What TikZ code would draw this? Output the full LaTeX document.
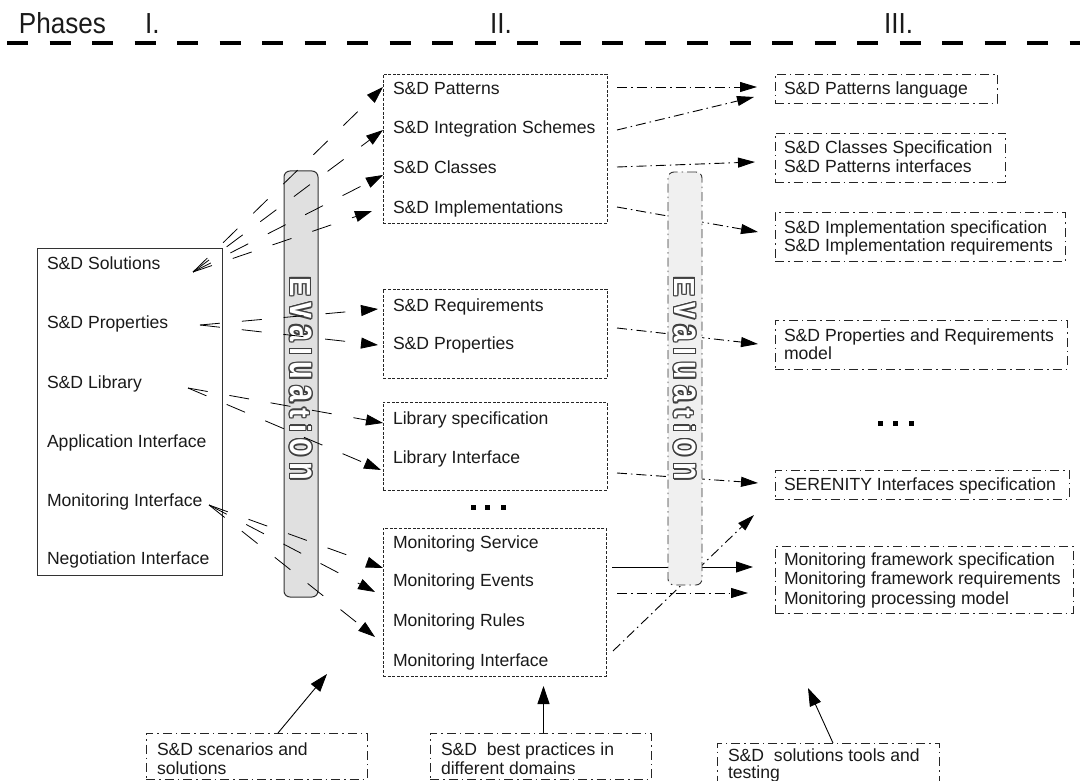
\documentclass[tikz,border=0pt]{standalone}
\usepackage{fontspec}
\setmainfont{Liberation Sans}
\usepackage{graphicx}
\usetikzlibrary{arrows.meta,calc}
\definecolor{txt}{HTML}{1A1A1A}
\newlength{\evk}\setlength{\evk}{6.3pt}
\newcommand{\lcx}[1]{\scalebox{1}[1.38]{#1}}
\newcommand{\evword}{E\kern\evk\lcx{v}\kern\evk\lcx{a}\kern\evk l\kern\evk\lcx{u}\kern\evk\lcx{a}\kern\evk t\kern\evk i\kern\evk\lcx{o}\kern\evk\lcx{n}}
\begin{document}
\begin{tikzpicture}[x=1pt,y=-1pt,
 every node/.style={inner sep=0pt, outer sep=0pt},
 lbl/.style={anchor=west, text height=12.6pt, text depth=0pt, font=\fontsize{17.6}{19.5}\selectfont, text=txt},
 hdr/.style={anchor=base west, font=\fontsize{29}{32}\selectfont, text=txt},
 solidbox/.style={draw=black!80, line width=1pt, anchor=north west},
 midbox/.style={draw=black!85, line width=0.8pt, dash pattern=on 3pt off 1.6pt, anchor=north west},
 ddbox/.style={draw=black!85, line width=0.9pt, dash pattern=on 9pt off 4pt on 1.5pt off 4pt, anchor=north west},
 ldash/.style={draw=black, line width=0.8pt, dash pattern=on 20pt off 22pt, -{Triangle[length=17pt,width=11pt]}},
 ddarrow/.style={draw=black, line width=0.9pt, dash pattern=on 10pt off 4pt on 1.5pt off 4pt, -{Triangle[length=17pt,width=10pt]}},
 sarrow/.style={draw=black, line width=0.9pt, -{Triangle[length=17pt,width=11pt]}},
 uparrow/.style={draw=black, line width=0.9pt, -{Triangle[length=18pt,width=12pt]}},
 bar1/.style={draw=black!80, line width=1pt, fill=black!12, rounded corners=6pt, anchor=north west},
 bar2/.style={draw=black!80, line width=0.9pt, fill=black!6, rounded corners=6pt, dash pattern=on 9pt off 4pt on 1.5pt off 4pt, anchor=north west},
 evo/.style={rotate=-90, anchor=west, font=\fontsize{29}{30}\selectfont\bfseries, text=black!75},
 evi/.style={rotate=-90, anchor=west, font=\fontsize{29}{30}\selectfont\bfseries, text=white},
]
\useasboundingbox (0,0) rectangle (1080,781);

% header
\node[hdr] (phases) at (19,34) {\scalebox{0.9}[1]{Phases}};
\node[hdr] (ph1) at (145,34) {\scalebox{0.9}[1]{I.}};
\node[hdr] (ph2) at (490,34) {\scalebox{0.9}[1]{II.}};
\node[hdr] (ph3) at (884,34) {\scalebox{0.9}[1]{III.}};
\coordinate (hdL) at (7,43.5);
\coordinate (hdR) at (1090,43.5);
\draw[line width=4pt, dash pattern=on 21pt off 21.5pt] (hdL) -- (hdR);

% left box
\node[solidbox, minimum width=185pt, minimum height=327pt] (boxL) at (37,248) {};
\node[lbl] (lSol) at (47,263) {S\&D Solutions};
\node[lbl] (lProp) at (47,322) {S\&D Properties};
\node[lbl] (lLib) at (47,382) {S\&D Library};
\node[lbl] (lApp) at (47,441) {Application Interface};
\node[lbl] (lMon) at (47,500) {Monitoring Interface};
\node[lbl] (lNeg) at (47,558) {Negotiation Interface};

% middle boxes
\node[midbox, minimum width=224pt, minimum height=149pt] (boxA) at (383,74) {};
\node[lbl] (aPat) at (393,88) {S\&D Patterns};
\node[lbl] (aInt) at (393,127) {S\&D Integration Schemes};
\node[lbl] (aCls) at (393,167) {S\&D Classes};
\node[lbl] (aImp) at (393,207) {S\&D Implementations};

\node[midbox, minimum width=224pt, minimum height=89pt] (boxB) at (383,289) {};
\node[lbl] (bReq) at (393,305) {S\&D Requirements};
\node[lbl] (bProp) at (393,343) {S\&D Properties};

\node[midbox, minimum width=224pt, minimum height=88pt] (boxC) at (383,402) {};
\node[lbl] (cSpec) at (393,418) {Library specification};
\node[lbl] (cInt) at (393,457) {Library Interface};

\node[midbox, minimum width=223pt, minimum height=148pt] (boxD) at (383,528) {};
\node[lbl] (dSrv) at (393,542) {Monitoring Service};
\node[lbl] (dEvt) at (393,580) {Monitoring Events};
\node[lbl] (dRul) at (393,620) {Monitoring Rules};
\node[lbl] (dInt) at (393,660) {Monitoring Interface};

\fill (470.5,504.5) rectangle +(5,5);
\fill (485,504.5) rectangle +(5,5);
\fill (501,504.5) rectangle +(5,5);

% right boxes
\node[ddbox, minimum width=222pt, minimum height=29pt] (r1) at (775,74) {};
\node[lbl] (r1a) at (784,88) {S\&D Patterns language};
\node[ddbox, minimum width=230pt, minimum height=49pt] (r2) at (775,133) {};
\node[lbl] (r2a) at (784,147) {S\&D Classes Specification};
\node[lbl] (r2b) at (784,166) {S\&D Patterns interfaces};
\node[ddbox, minimum width=290pt, minimum height=49pt] (r3) at (775,212) {};
\node[lbl] (r3a) at (784,227) {S\&D Implementation specification};
\node[lbl] (r3b) at (784,245) {S\&D Implementation requirements};
\node[ddbox, minimum width=292pt, minimum height=49pt] (r4) at (775,320) {};
\node[lbl] (r4a) at (784,335) {S\&D Properties and Requirements};
\node[lbl] (r4b) at (784,353) {model};
\node[ddbox, minimum width=294pt, minimum height=29pt] (r5) at (775,470) {};
\node[lbl] (r5a) at (784,484) {SERENITY Interfaces specification};
\node[ddbox, minimum width=298pt, minimum height=67pt] (r6) at (775,546) {};
\node[lbl] (r6a) at (784,559) {Monitoring framework specification};
\node[lbl] (r6b) at (784,578) {Monitoring framework requirements};
\node[lbl] (r6c) at (784,598) {Monitoring processing model};

\fill (878,420.5) rectangle +(5,5);
\fill (893,420.5) rectangle +(5,5);
\fill (908.5,420.5) rectangle +(5,5);

% bottom boxes
\node[ddbox, minimum width=221pt, minimum height=46pt] (bt1) at (146,733) {};
\node[lbl] (bt1a) at (157,749) {S\&D scenarios and};
\node[lbl] (bt1b) at (157,768) {solutions};
\node[ddbox, minimum width=221pt, minimum height=46pt] (bt2) at (430,733) {};
\node[lbl] (bt2a) at (441,749) {S\&D~ best practices in};
\node[lbl] (bt2b) at (441,768) {different domains};
\node[ddbox, minimum width=222pt, minimum height=60pt] (bt3) at (717,743) {};
\node[lbl] (bt3a) at (728,755) {S\&D~ solutions tools and};
\node[lbl] (bt3b) at (728,772) {testing};

% evaluation bar 1
\node[bar1, minimum width=34pt, minimum height=426pt] (ev1) at (284,171) {};
\foreach \a in {0,30,...,330}
  \node[evo] (ev1o\a) at ($(301,277)+(\a:1.4)$) {\evword};
\node[evi] (ev1t) at (301,277) {\evword};

% connectors left -> middle
\coordinate (sSol) at (193,272);
\coordinate (sProp) at (200,325);
\coordinate (sLib) at (188,388);
\coordinate (sMon) at (209,505);
\coordinate (tPat) at (383,87);
\coordinate (tInt) at (383,130);
\coordinate (tCls) at (383,175);
\coordinate (tImp) at (372,211);
\coordinate (tReq) at (378,309);
\coordinate (tProp) at (378,345);
\coordinate (tLSp) at (383,423);
\coordinate (tLIn) at (381,470);
\coordinate (tMSv) at (383,568);
\coordinate (tMEv) at (375,592);
\coordinate (tMRu) at (375,637);
\draw[ldash] (sSol) -- (tPat);
\draw[ldash] (sSol) -- (tInt);
\draw[ldash] (sSol) -- (tCls);
\draw[ldash] (sSol) -- (tImp);
\draw[ldash] (sProp) -- (tReq);
\draw[ldash] (sProp) -- (tProp);
\draw[ldash] (sLib) -- (tLSp);
\draw[ldash] (sLib) -- (tLIn);
\draw[ldash] (sMon) -- (tMSv);
\draw[ldash] (sMon) -- (tMEv);
\draw[ldash] (sMon) -- (tMRu);

% connectors middle -> right
\coordinate (m1s) at (617,87);   \coordinate (m1e) at (757,87);
\coordinate (m2s) at (617,130);  \coordinate (m2e) at (754,97);
\coordinate (m3s) at (617,167);  \coordinate (m3e) at (755,162);
\coordinate (m4s) at (617,207);  \coordinate (m4e) at (758,232);
\coordinate (m5s) at (617,328);  \coordinate (m5e) at (758,344);
\coordinate (m6s) at (617,473);  \coordinate (m6e) at (758,483);
\coordinate (m7s) at (612,567);  \coordinate (m7e) at (753,567);
\coordinate (m8s) at (617,593);  \coordinate (m8e) at (748,593);
\coordinate (m9s) at (613,651);  \coordinate (m9e) at (754,515);
\draw[ddarrow] (m1s) -- (m1e);
\draw[ddarrow] (m2s) -- (m2e);
\draw[ddarrow] (m3s) -- (m3e);
\draw[ddarrow] (m4s) -- (m4e);
\draw[ddarrow] (m5s) -- (m5e);
\draw[ddarrow] (m6s) -- (m6e);
\draw[sarrow] (m7s) -- (m7e);
\draw[ddarrow] (m8s) -- (m8e);
\draw[ddarrow] (m9s) -- (m9e);

% evaluation bar 2
\node[bar2, minimum width=34pt, minimum height=413pt] (ev2) at (668,172) {};
\foreach \a in {0,30,...,330}
  \node[evo] (ev2o\a) at ($(685,277)+(\a:1.4)$) {\evword};
\node[evi] (ev2t) at (685,277) {\evword};

% bottom arrows
\coordinate (u1s) at (278,733); \coordinate (u1e) at (327,674);
\coordinate (u2s) at (543.5,733); \coordinate (u2e) at (543.5,686);
\coordinate (u3s) at (833,743); \coordinate (u3e) at (808,688);
\draw[uparrow] (u1s) -- (u1e);
\draw[uparrow] (u2s) -- (u2e);
\draw[uparrow] (u3s) -- (u3e);
\end{tikzpicture}
\end{document}
